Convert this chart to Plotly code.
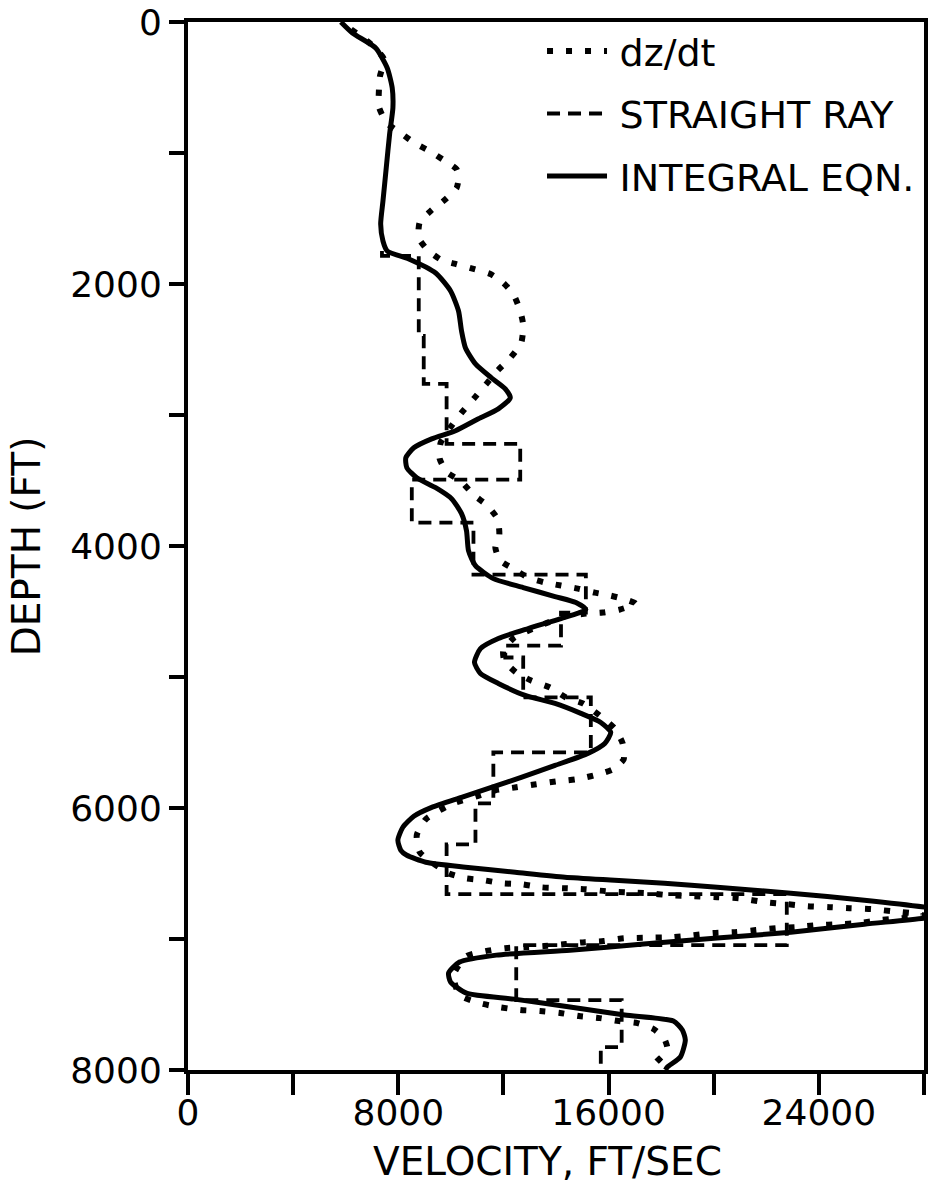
import plotly.graph_objects as go

# ---- dz/dt (dotted) : velocity (ft/s) vs depth (ft)
dzdt_depth = [56, 170, 284, 414, 513, 650, 772, 849, 925, 986, 1054, 1123, 1192, 1268, 1359, 1436,
              1527, 1649, 1741, 1817, 1847, 1885, 1924, 1992, 2076, 2206, 2312, 2450, 2564, 2655,
              2762, 2869, 2983, 3082, 3212, 3334, 3441, 3502, 3608, 3692, 3791, 3914, 4013, 4112,
              4173, 4241, 4279, 4302, 4325, 4356, 4379, 4409, 4440, 4485, 4508, 4516, 4539, 4615,
              4699, 4798, 4874, 4966, 5027, 5080, 5156, 5202, 5294, 5393, 5507, 5629, 5705, 5751,
              5781, 5797, 5819, 5842, 5865, 5911, 5964, 6086, 6208, 6338, 6498, 6536, 6551, 6574,
              6582, 6605, 6612, 6620, 6635, 6643, 6650, 6666, 6673, 6681, 6689, 6719, 6734, 6750,
              6757, 6765, 6772, 6788, 6803, 6822, 6841, 6856, 6879, 6887, 6894, 6909, 6917, 6932,
              6948, 6955, 6971, 6986, 6990, 6995, 7016, 7024, 7039, 7054, 7062, 7070, 7093, 7131,
              7275, 7428, 7489, 7519, 7542, 7550, 7565, 7588, 7604, 7626, 7642, 7687, 7764, 7847,
              7946, 7985]
dzdt_vel = [6206, 6963, 7454, 7303, 7265, 7265, 7568, 8098, 8628, 9195, 9725, 10217, 10292, 10217,
            9763, 9271, 8817, 8779, 9119, 9649, 10179, 10860, 11503, 11995, 12374, 12639, 12752,
            12676, 12260, 11806, 11352, 10898, 10406, 10028, 9611, 9574, 9876, 10368, 10860, 11390,
            11768, 11844, 11693, 11882, 12374, 12941, 13585, 14190, 14833, 15477, 16082, 16650,
            17028, 16423, 15779, 15136, 14304, 13320, 12412, 11995, 12033, 12487, 13055, 13774,
            14379, 15022, 15666, 16233, 16536, 16574, 16158, 15439, 14758, 14001, 13244, 12487,
            11693, 10974, 10103, 9044, 8703, 8817, 9914, 10557, 11238, 11957, 12676, 13433, 14266,
            15136, 15893, 16650, 17482, 18315, 19223, 20131, 20963, 21947, 22780, 23574, 24407,
            25164, 25996, 26791, 27548, 28002, 27131, 26299, 25504, 24747, 23953, 23120, 22401,
            21607, 20812, 19980, 19223, 18390, 17482, 16574, 15817, 15098, 14379, 13547, 12866,
            12071, 11314, 10595, 10103, 10330, 11087, 11806, 12639, 13395, 14152, 14871, 15666,
            16385, 17104, 17709, 18125, 18239, 17785, 17671]

# ---- straight ray (step) : layer boundaries (ft) and layer velocities (ft/s)
ray_bounds = [1748, 1786, 2396, 2762, 3220, 3494, 3822, 4218, 4508, 4760, 4851, 5156, 5575,
              5964, 6277, 6658, 7047, 7466, 7825, 8000]
ray_vel = [7379, 8779, 8968, 9838, 12639, 8514, 10860, 15136, 14190, 12071, 12752, 15325,
           11617, 10936, 9838, 22780, 12487, 16498, 15704]

# ---- integral equation (solid)
int_depth = [0, 84, 198, 351, 503, 656, 856, 1113, 1367, 1542, 1672, 1748, 1809, 1916, 2053, 2206,
             2358, 2488, 2610, 2716, 2800, 2869, 2953, 3029, 3120, 3182, 3250, 3326, 3403, 3479,
             3555, 3639, 3753, 3883, 4035, 4150, 4249, 4317, 4386, 4432, 4485, 4554, 4630, 4706,
             4783, 4889, 4973, 5049, 5141, 5202, 5278, 5347, 5423, 5507, 5583, 5675, 5766, 5842,
             5918, 5995, 6063, 6147, 6246, 6323, 6361, 6414, 6452, 6490, 6528, 6551, 6574, 6605,
             6650, 6704, 6757, 6799, 6841, 6887, 6948, 6993, 7039, 7085, 7123, 7176, 7260, 7329,
             7413, 7459, 7519, 7580, 7626, 7695, 7771, 7901, 7977, 8000]
int_vel = [5816, 6255, 7140, 7579, 7769, 7795, 7670, 7542, 7417, 7330, 7417, 7579, 8400, 9422,
           9990, 10292, 10406, 10557, 10936, 11541, 12071, 12260, 11806, 11049, 10179, 9271, 8590,
           8287, 8325, 8703, 9422, 10028, 10406, 10595, 10671, 10936, 11617, 12752, 13963, 14758,
           15136, 14190, 12941, 11806, 11125, 10898, 11125, 11806, 12828, 13963, 14947, 15704,
           16082, 15855, 15212, 13963, 12676, 11541, 10406, 9271, 8590, 8173, 7984, 8098, 8325,
           9044, 10557, 12449, 14341, 16233, 18125, 20131, 22931, 25731, 28039, 29402, 28039,
           25731, 22931, 20131, 17331, 14531, 11730, 10330, 9914, 9990, 10595, 12412, 14531,
           16612, 18466, 18806, 18920, 18731, 18239, 18163]

x_ticks = list(range(0, 28001, 4000))
x_ticktext = ["0", "", "8000", "", "16000", "", "24000", ""]
y_ticks = list(range(0, 8001, 1000))
y_ticktext = ["0", "", "2000", "", "4000", "", "6000", "", "8000"]

FONT = "DejaVu Sans"
SP = "\u2009"  # thin space between legend symbol and label

fig = go.Figure()

fig.add_trace(go.Scatter(
    x=dzdt_vel, y=dzdt_depth, mode="lines", name=SP + "dz/dt", legendgroup="a",
    line=dict(color="black", width=6, dash="6px,13px", shape="spline", smoothing=0.6),
))

ray_x = ray_vel + [ray_vel[-1]]
ray_y = ray_bounds
fig.add_trace(go.Scatter(
    x=ray_x, y=ray_y, mode="lines", name=SP + "STRAIGHT RAY", legendgroup="b",
    line=dict(color="black", width=3.8, dash="13px,8px", shape="vh"),
))

fig.add_trace(go.Scatter(
    x=int_vel, y=int_depth, mode="lines", name=SP + "INTEGRAL EQN.", legendgroup="c",
    line=dict(color="black", width=5, shape="spline", smoothing=0.6),
))

fig.update_layout(
    width=930, height=1187,
    margin=dict(l=188, r=2, t=21, b=117),
    plot_bgcolor="white", paper_bgcolor="white",
    font=dict(family=FONT, size=36, color="black"),
    showlegend=True,
    legend=dict(
        x=0.481, y=1.002, xanchor="left", yanchor="top",
        bgcolor="rgba(0,0,0,0)", borderwidth=0,
        font=dict(family=FONT, size=38, color="black"),
        itemwidth=60, tracegroupgap=10, traceorder="grouped",
    ),
    xaxis=dict(
        range=[0, 28000], tickvals=x_ticks, ticktext=x_ticktext,
        ticks="outside", ticklen=21, tickwidth=3.5, tickcolor="black",
        showline=True, linewidth=4, linecolor="black", mirror=True,
        showgrid=False, zeroline=False, ticklabelstandoff=-13,
        tickfont=dict(family=FONT, size=36, color="black"),
    ),
    yaxis=dict(
        range=[8000, 0], tickvals=y_ticks, ticktext=y_ticktext,
        ticks="outside", ticklen=15, tickwidth=3.5, tickcolor="black",
        showline=True, linewidth=4, linecolor="black", mirror=True,
        showgrid=False, zeroline=False,
        tickfont=dict(family=FONT, size=36, color="black"),
    ),
    annotations=[
        dict(text="VELOCITY, FT/SEC", xref="paper", yref="paper", x=0.4878, y=-0.087,
             xanchor="center", yanchor="middle", showarrow=False,
             font=dict(family=FONT, size=39, color="black")),
        dict(text="DEPTH (FT)", xref="paper", yref="paper", x=-0.2196, y=0.5,
             xanchor="center", yanchor="middle", showarrow=False, textangle=-90,
             font=dict(family=FONT, size=39, color="black")),
    ],
)

fig.write_html("out.html")
